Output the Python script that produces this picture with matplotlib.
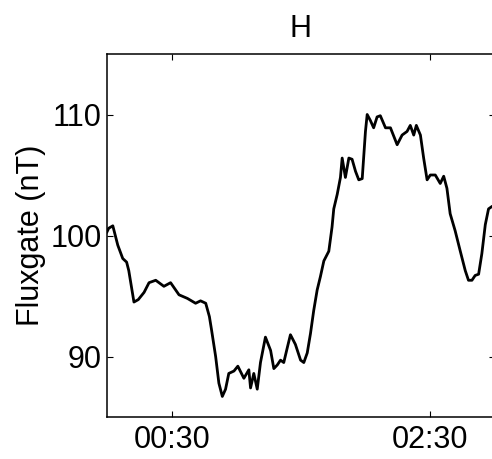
import matplotlib
matplotlib.use("Agg")
import matplotlib.pyplot as plt

plt.rcParams['font.family'] = ['Liberation Sans', 'DejaVu Sans']

# time in minutes after 00:00, field in nT
minutes = [0.0, 0.8, 2.7, 5.0, 7.3, 9.1, 10.1, 12.5, 14.5, 17.2, 19.5, 22.6, 26.4, 29.5,
           33.4, 37.3, 41.1, 43.4, 45.8, 47.5, 48.5, 50.4, 51.9, 53.5, 55.0, 56.5, 58.9,
           60.7, 63.5, 65.8, 66.6, 68.1, 69.7, 71.2, 73.5, 75.9, 77.4, 79.0, 80.5, 82.0,
           83.6, 85.1, 87.4, 89.8, 91.3, 92.9, 94.4, 95.9, 97.5, 99.0, 100.6, 102.9,
           104.4, 105.2, 106.8, 108.3, 109.1, 110.6, 112.2, 113.7, 115.3, 116.8, 118.4,
           119.9, 120.7, 122.2, 123.7, 125.3, 126.8, 129.2, 131.5, 134.6, 136.9, 139.2,
           140.7, 142.3, 143.5, 145.4, 146.9, 148.5, 150.0, 152.3, 154.6, 156.2, 157.7,
           159.2, 161.5, 163.9, 166.2, 167.7, 169.3, 170.8, 172.4, 173.9, 175.5, 177.0,
           178.6, 180.0]
field = [100.3, 100.6, 100.8, 99.2, 98.1, 97.8, 97.1, 94.5, 94.7, 95.3, 96.1, 96.3, 95.8, 96.1,
         95.1, 94.8, 94.4, 94.6, 94.4, 93.3, 92.2, 90.0, 87.8, 86.7, 87.3, 88.6, 88.8,
         89.2, 88.2, 88.9, 87.4, 88.6, 87.3, 89.5, 91.6, 90.5, 89.0, 89.3, 89.7, 89.5,
         90.7, 91.8, 91.0, 89.7, 89.5, 90.3, 91.9, 93.8, 95.5, 96.6, 97.9, 98.7,
         100.7, 102.2, 103.4, 104.8, 106.4, 104.8, 106.4, 106.3, 105.3, 104.6, 104.7,
         108.6, 110.0, 109.5, 108.9, 109.8, 109.9, 108.9, 108.9, 107.5, 108.3, 108.6,
         109.1, 108.3, 109.1, 108.3, 106.4, 104.6, 105.0, 105.0, 104.3, 104.9, 103.9,
         101.8, 100.4, 98.7, 97.1, 96.3, 96.3, 96.7, 96.8, 98.5, 100.9, 102.2,
         102.4, 102.5]

xtick_pos = [30, 150]
xtick_labels = ['00:30', '02:30']
ytick_pos = [90, 100, 110]

W, H = 492, 459
fig = plt.figure(figsize=(W / 100, H / 100), dpi=100)
left, right, top, bottom = 107, 495, 54, 417
ax = fig.add_axes([left / W, (H - bottom) / H, (right - left) / W, (bottom - top) / H])

ax.plot(minutes, field, color='black', lw=2.0)
ax.set_xlim(0, 180)
ax.set_ylim(85, 115)
ax.set_xticks(xtick_pos)
ax.set_xticklabels(xtick_labels)
ax.set_yticks(ytick_pos)
ax.tick_params(direction='in', length=4, width=0.8, labelsize=22,
               top=True, right=True)
ax.tick_params(axis='x', pad=6)
ax.tick_params(axis='y', pad=4)
for s in ax.spines.values():
    s.set_linewidth(1.1)
ax.set_title('H', fontsize=22, pad=12)
ax.set_ylabel('Fluxgate (nT)', fontsize=22, labelpad=3)

fig.savefig('out.png', dpi=100)
